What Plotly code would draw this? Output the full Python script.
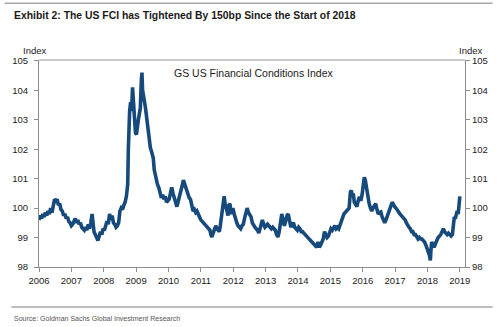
import plotly.graph_objects as go

# GS US Financial Conditions Index, read at roughly two-week steps (decimal years)
years = [
    2006.00, 2006.04, 2006.08, 2006.12, 2006.16, 2006.20, 2006.24, 2006.28, 2006.32, 2006.36,
    2006.40, 2006.44, 2006.48, 2006.52, 2006.56, 2006.60, 2006.64, 2006.68, 2006.72, 2006.76,
    2006.80, 2006.84, 2006.88, 2006.92, 2006.96, 2007.00, 2007.04, 2007.08, 2007.12, 2007.16,
    2007.20, 2007.24, 2007.28, 2007.32, 2007.36, 2007.40, 2007.44, 2007.48, 2007.52, 2007.56,
    2007.60, 2007.64, 2007.66, 2007.70, 2007.74, 2007.78, 2007.82, 2007.86, 2007.90, 2007.94,
    2007.98, 2008.02, 2008.06, 2008.10, 2008.14, 2008.18, 2008.22, 2008.26, 2008.30, 2008.34,
    2008.38, 2008.42, 2008.46, 2008.50, 2008.54, 2008.58, 2008.62, 2008.66, 2008.70, 2008.74,
    2008.76, 2008.78, 2008.80, 2008.83, 2008.86, 2008.89, 2008.92, 2008.95, 2008.98, 2009.01,
    2009.04, 2009.07, 2009.10, 2009.13, 2009.16, 2009.18, 2009.20, 2009.23, 2009.26, 2009.29,
    2009.32, 2009.35, 2009.38, 2009.41, 2009.44, 2009.47, 2009.50, 2009.53, 2009.56, 2009.59,
    2009.62, 2009.66, 2009.70, 2009.74, 2009.78, 2009.82, 2009.86, 2009.90, 2009.94, 2009.98,
    2010.02, 2010.06, 2010.10, 2010.14, 2010.18, 2010.22, 2010.26, 2010.30, 2010.34, 2010.38,
    2010.42, 2010.46, 2010.49, 2010.52, 2010.56, 2010.60, 2010.64, 2010.68, 2010.72, 2010.76,
    2010.80, 2010.84, 2010.88, 2010.92, 2010.96, 2011.00, 2011.04, 2011.08, 2011.12, 2011.16,
    2011.20, 2011.24, 2011.28, 2011.31, 2011.34, 2011.38, 2011.42, 2011.46, 2011.50, 2011.54,
    2011.57, 2011.60, 2011.63, 2011.66, 2011.69, 2011.72, 2011.75, 2011.78, 2011.81, 2011.84,
    2011.87, 2011.90, 2011.93, 2011.96, 2011.99, 2012.03, 2012.07, 2012.11, 2012.15, 2012.19,
    2012.23, 2012.27, 2012.31, 2012.35, 2012.39, 2012.43, 2012.47, 2012.51, 2012.55, 2012.59,
    2012.63, 2012.67, 2012.71, 2012.75, 2012.79, 2012.83, 2012.87, 2012.90, 2012.94, 2012.98,
    2013.02, 2013.06, 2013.10, 2013.14, 2013.18, 2013.22, 2013.26, 2013.30, 2013.34, 2013.38,
    2013.42, 2013.46, 2013.50, 2013.54, 2013.58, 2013.62, 2013.66, 2013.70, 2013.74, 2013.78,
    2013.82, 2013.86, 2013.90, 2013.94, 2013.98, 2014.02, 2014.06, 2014.10, 2014.14, 2014.18,
    2014.22, 2014.26, 2014.30, 2014.34, 2014.38, 2014.42, 2014.46, 2014.50, 2014.54, 2014.58,
    2014.62, 2014.66, 2014.70, 2014.74, 2014.78, 2014.82, 2014.86, 2014.90, 2014.94, 2014.98,
    2015.02, 2015.06, 2015.10, 2015.14, 2015.18, 2015.22, 2015.26, 2015.30, 2015.34, 2015.38,
    2015.42, 2015.46, 2015.50, 2015.54, 2015.58, 2015.62, 2015.65, 2015.68, 2015.71, 2015.74,
    2015.78, 2015.82, 2015.86, 2015.90, 2015.94, 2015.98, 2016.02, 2016.05, 2016.08, 2016.11,
    2016.14, 2016.17, 2016.20, 2016.24, 2016.28, 2016.32, 2016.36, 2016.40, 2016.44, 2016.48,
    2016.52, 2016.56, 2016.60, 2016.64, 2016.68, 2016.72, 2016.76, 2016.80, 2016.84, 2016.88,
    2016.91, 2016.95, 2016.99, 2017.03, 2017.07, 2017.11, 2017.15, 2017.19, 2017.23, 2017.27,
    2017.31, 2017.35, 2017.39, 2017.43, 2017.47, 2017.51, 2017.55, 2017.59, 2017.63, 2017.67,
    2017.71, 2017.75, 2017.79, 2017.83, 2017.87, 2017.91, 2017.95, 2017.99, 2018.03, 2018.06,
    2018.09, 2018.11, 2018.13, 2018.17, 2018.21, 2018.25, 2018.29, 2018.33, 2018.37, 2018.41,
    2018.45, 2018.49, 2018.53, 2018.57, 2018.61, 2018.65, 2018.69, 2018.73, 2018.77, 2018.80,
    2018.83, 2018.86, 2018.89, 2018.92, 2018.95, 2018.98, 2019.00,
]

fci = [
    99.60, 99.75, 99.65, 99.80, 99.70, 99.85, 99.75, 99.90, 99.80, 100.00,
    99.85, 100.10, 100.30, 100.25, 100.30, 100.10, 100.15, 99.95, 99.90, 99.75,
    99.80, 99.65, 99.70, 99.55, 99.50, 99.40, 99.45, 99.55, 99.65, 99.50,
    99.60, 99.45, 99.50, 99.35, 99.30, 99.25, 99.35, 99.25, 99.45, 99.30,
    99.50, 99.80, 99.60, 99.20, 99.10, 98.95, 98.90, 99.05, 99.20, 99.10,
    99.30, 99.25, 99.40, 99.55, 99.45, 99.80, 99.60, 99.75, 99.50, 99.45,
    99.35, 99.40, 99.50, 99.90, 100.00, 99.95, 100.10, 100.20, 100.40, 100.80,
    102.00, 102.80, 103.30, 103.60, 103.30, 104.10, 103.50, 102.90, 102.55, 102.50,
    102.85, 103.00, 103.20, 103.40, 104.30, 104.60, 104.00, 103.70, 103.60, 103.40,
    103.10, 102.80, 102.50, 102.20, 102.05, 101.95, 101.85, 101.70, 101.30, 101.10,
    100.95, 100.80, 100.70, 100.50, 100.35, 100.45, 100.30, 100.40, 100.20, 100.25,
    100.30, 100.50, 100.70, 100.50, 100.30, 100.20, 100.05, 100.20, 100.35, 100.50,
    100.75, 100.95, 100.85, 100.75, 100.60, 100.50, 100.35, 100.30, 100.15, 99.90,
    99.95, 99.85, 99.90, 99.75, 99.70, 99.60, 99.55, 99.48, 99.45, 99.40,
    99.35, 99.30, 99.25, 99.10, 99.02, 99.15, 99.25, 99.40, 99.30, 99.25,
    99.20, 99.40, 99.70, 100.00, 100.15, 100.40, 100.15, 100.00, 99.85, 99.75,
    100.10, 100.15, 99.80, 99.90, 100.00, 99.80, 99.60, 99.50, 99.40, 99.35,
    99.30, 99.40, 99.45, 99.65, 99.80, 100.00, 99.85, 99.75, 99.70, 99.50,
    99.40, 99.35, 99.30, 99.25, 99.15, 99.30, 99.50, 99.60, 99.45, 99.35,
    99.40, 99.45, 99.40, 99.35, 99.30, 99.35, 99.30, 99.25, 99.10, 99.02,
    99.20, 99.48, 99.80, 99.60, 99.40, 99.55, 99.75, 99.80, 99.60, 99.35,
    99.45, 99.50, 99.35, 99.30, 99.25, 99.35, 99.30, 99.20, 99.20, 99.15,
    99.10, 99.05, 99.00, 98.95, 98.90, 98.85, 98.80, 98.75, 98.70, 98.67,
    98.85, 98.67, 98.75, 98.85, 98.95, 99.20, 99.10, 99.00, 99.05, 99.20,
    99.30, 99.25, 99.35, 99.40, 99.30, 99.35, 99.30, 99.45, 99.60, 99.65,
    99.80, 99.85, 99.90, 99.95, 100.00, 100.55, 100.60, 100.40, 100.50, 100.20,
    100.10, 100.05, 100.25, 100.38, 100.25, 100.45, 100.80, 101.05, 100.95, 100.70,
    100.55, 100.30, 100.15, 100.00, 99.90, 100.00, 100.10, 100.15, 99.95, 99.80,
    99.85, 99.87, 99.70, 99.55, 99.50, 99.60, 99.75, 99.85, 100.00, 100.10,
    100.20, 100.10, 100.04, 100.00, 99.90, 99.87, 99.80, 99.75, 99.70, 99.65,
    99.60, 99.50, 99.40, 99.35, 99.30, 99.20, 99.20, 99.10, 99.10, 99.00,
    98.95, 99.00, 98.95, 98.95, 98.90, 98.85, 98.75, 98.65, 98.50, 98.40,
    98.22, 98.60, 98.85, 98.75, 98.67, 98.80, 98.95, 99.00, 99.05, 99.10,
    99.20, 99.30, 99.20, 99.15, 99.10, 99.15, 99.10, 99.05, 99.10, 99.45,
    99.70, 99.65, 99.85, 99.90, 99.80, 100.10, 100.40,
]

year_ticks = list(range(2006, 2020))
year_labels = [str(y) for y in year_ticks]
index_ticks = [98, 99, 100, 101, 102, 103, 104, 105]
index_labels = [str(v) for v in index_ticks]

title_text = "Exhibit 2: The US FCI has Tightened By 150bp Since the Start of 2018"
chart_label = "GS US Financial Conditions Index"
source_text = "Source: Goldman Sachs Global Investment Research"

LINE_BLUE = "#174a7c"
AXIS_GREY = "#8c8c8c"
TICK_FONT = dict(family="Liberation Sans, Arial, sans-serif", size=9.5, color="#222222")

fig = go.Figure()
fig.add_trace(go.Scatter(
    x=years, y=fci, mode="lines",
    line=dict(color=LINE_BLUE, width=3.6),
    hoverinfo="skip", showlegend=False,
))
# same series on the right-hand axis so both scales render
fig.add_trace(go.Scatter(
    x=years, y=fci, mode="lines", yaxis="y2",
    line=dict(color="rgba(0,0,0,0)", width=0),
    hoverinfo="skip", showlegend=False,
))

y_range = [98, 105.03]
common_y = dict(
    range=y_range, tickvals=index_ticks, ticktext=index_labels,
    ticks="outside", ticklen=4, tickcolor=AXIS_GREY, tickwidth=1,
    showline=True, linecolor=AXIS_GREY, linewidth=1.2,
    showgrid=False, zeroline=False, tickfont=TICK_FONT,
)

fig.update_layout(
    width=500, height=327,
    margin=dict(l=35, r=32, t=60, b=60),
    paper_bgcolor="white", plot_bgcolor="white",
    xaxis=dict(
        range=[2006, 2019.16], tickvals=year_ticks, ticktext=year_labels,
        ticks="outside", ticklen=4, tickcolor=AXIS_GREY, tickwidth=1,
        showline=True, linecolor=AXIS_GREY, linewidth=1.2,
        showgrid=False, zeroline=False, tickfont=TICK_FONT,
    ),
    yaxis=dict(side="left", ticklabelstandoff=4, **common_y),
    yaxis2=dict(side="right", overlaying="y", **common_y),
)

fig.add_shape(type="line", xref="paper", yref="paper", x0=0, x1=1, y0=1, y1=1,
              line=dict(color="#b8b8b8", width=1.5))
fig.add_shape(type="line", xref="paper", yref="paper", x0=-0.0808, x1=1.0647,
              y0=1.274, y1=1.274, line=dict(color="#a8a8a8", width=1.5))
fig.add_shape(type="line", xref="paper", yref="paper", x0=-0.0647, x1=1.0647,
              y0=-0.193, y1=-0.193, line=dict(color="#a8a8a8", width=1.5))

fig.add_annotation(text="<b>" + title_text + "</b>", xref="paper", yref="paper",
                   x=-0.0624, y=1.2126, xanchor="left", yanchor="middle", showarrow=False,
                   font=dict(family="Liberation Sans Narrow, Arial Narrow, sans-serif", size=10.4, color="#1a1a1a"))
fig.add_annotation(text="Index", xref="paper", yref="paper", x=-0.0115, y=1.045,
                   xanchor="center", yanchor="middle", showarrow=False, font=TICK_FONT)
fig.add_annotation(text="Index", xref="paper", yref="paper", x=1.0127, y=1.045,
                   xanchor="center", yanchor="middle", showarrow=False, font=TICK_FONT)
fig.add_annotation(text=chart_label, xref="paper", yref="paper", x=0.5028, y=0.9386,
                   xanchor="center", yanchor="middle", showarrow=False,
                   font=dict(family="Liberation Sans, Arial, sans-serif", size=10.5, color="#1a1a1a"))
fig.add_annotation(text=source_text, xref="paper", yref="paper", x=-0.0624, y=-0.2464,
                   xanchor="left", yanchor="middle", showarrow=False,
                   font=dict(family="Liberation Sans Narrow, Arial Narrow, sans-serif", size=7, color="#555555"))

fig.write_html("out.html")
